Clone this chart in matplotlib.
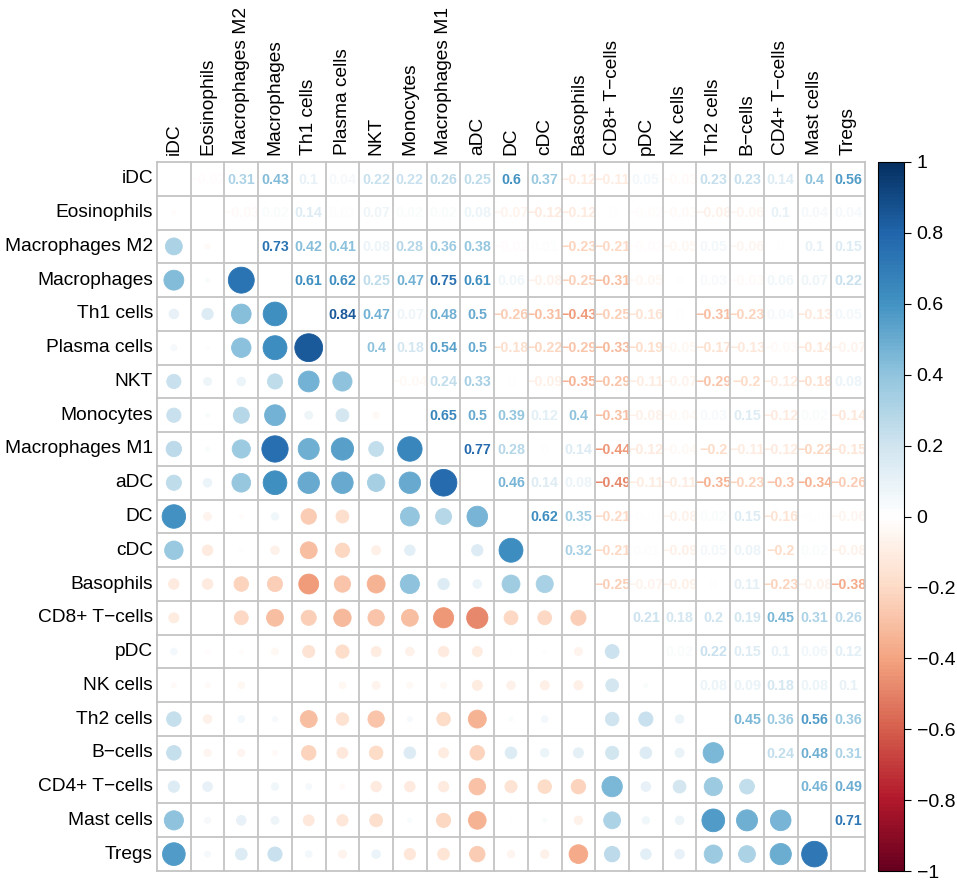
import matplotlib
matplotlib.use("Agg")
import matplotlib.pyplot as plt
import numpy as np
from matplotlib.colors import LinearSegmentedColormap, Normalize
from matplotlib.patches import Circle
from matplotlib.cm import ScalarMappable

plt.rcParams['font.family'] = ['Liberation Sans', 'DejaVu Sans']

labels = ["iDC", "Eosinophils", "Macrophages M2", "Macrophages", "Th1 cells",
          "Plasma cells", "NKT", "Monocytes", "Macrophages M1", "aDC", "DC",
          "cDC", "Basophils", "CD8+ T\u2212cells", "pDC", "NK cells", "Th2 cells",
          "B\u2212cells", "CD4+ T\u2212cells", "Mast cells", "Tregs"]

# upper triangle, row i holds correlations with columns i+1 .. 20
upper = [
    [-0.02, 0.31, 0.43, 0.1, 0.04, 0.22, 0.22, 0.26, 0.25, 0.6, 0.37, -0.12, -0.11, 0.05, -0.03, 0.23, 0.23, 0.14, 0.4, 0.56],
    [-0.03, 0.02, 0.14, 0.01, 0.07, 0.02, 0.02, 0.08, -0.07, -0.12, -0.12, 0.0, -0.02, -0.03, -0.08, -0.06, 0.1, 0.04, 0.04],
    [0.73, 0.42, 0.41, 0.08, 0.28, 0.36, 0.38, -0.02, 0.01, -0.23, -0.21, -0.02, -0.05, 0.05, -0.06, 0.0, 0.1, 0.15],
    [0.61, 0.62, 0.25, 0.47, 0.75, 0.61, 0.06, -0.08, -0.25, -0.31, -0.05, 0.0, 0.03, -0.03, 0.06, 0.07, 0.22],
    [0.84, 0.47, 0.07, 0.48, 0.5, -0.26, -0.31, -0.43, -0.25, -0.16, 0.0, -0.31, -0.23, 0.04, -0.13, 0.05],
    [0.4, 0.18, 0.54, 0.5, -0.18, -0.22, -0.29, -0.33, -0.19, -0.05, -0.17, -0.13, -0.03, -0.14, -0.07],
    [-0.04, 0.24, 0.33, 0.0, -0.09, -0.35, -0.29, -0.11, -0.07, -0.29, -0.2, -0.12, -0.18, 0.08],
    [0.65, 0.5, 0.39, 0.12, 0.4, -0.31, -0.08, -0.04, 0.03, 0.15, -0.12, 0.02, -0.14],
    [0.77, 0.28, 0.0, 0.14, -0.44, -0.12, -0.04, -0.2, -0.11, -0.12, -0.22, -0.15],
    [0.46, 0.14, 0.08, -0.49, -0.11, -0.11, -0.35, -0.23, -0.3, -0.34, -0.26],
    [0.62, 0.35, -0.21, -0.01, -0.08, 0.02, 0.15, -0.16, -0.01, -0.06],
    [0.32, -0.21, 0.01, -0.09, 0.05, 0.08, -0.2, 0.02, -0.08],
    [-0.25, -0.07, -0.09, 0.0, 0.11, -0.23, -0.08, -0.38],
    [0.21, 0.18, 0.2, 0.19, 0.45, 0.31, 0.26],
    [0.02, 0.22, 0.15, 0.1, 0.06, 0.12],
    [0.08, 0.09, 0.18, 0.08, 0.1],
    [0.45, 0.36, 0.56, 0.36],
    [0.24, 0.48, 0.31],
    [0.46, 0.49],
    [0.71],
]

cb_ticks = [1, 0.8, 0.6, 0.4, 0.2, 0, -0.2, -0.4, -0.6, -0.8, -1]

n = len(labels)
M = np.zeros((n, n))
for i, row in enumerate(upper):
    for k, v in enumerate(row):
        j = i + 1 + k
        M[i, j] = v
        M[j, i] = v

cmap = LinearSegmentedColormap.from_list(
    "corrRdBu",
    ["#67001F", "#B2182B", "#D6604D", "#F4A582", "#FDDBC7", "#FFFFFF",
     "#D1E5F0", "#92C5DE", "#4393C3", "#2166AC", "#053061"], N=200)
norm = Normalize(-1, 1)

W, H = 957, 880
fig = plt.figure(figsize=(W / 100, H / 100), dpi=100)
gl, gr, gt, gb = 157, 865, 162, 871
ax = fig.add_axes([gl / W, 1 - gb / H, (gr - gl) / W, (gb - gt) / H])
ax.set_xlim(0, n)
ax.set_ylim(n, 0)
ax.axis("off")

def fmt(v):
    s = f"{round(v, 2):g}"
    if s == "-0":
        s = "0"
    return s.replace("-", "\u2212")

for i in range(n):
    for j in range(n):
        if i == j:
            continue
        v = M[i, j]
        c = cmap(norm(v))
        if j > i:
            ax.text(j + 0.5, i + 0.52, fmt(v), ha="center", va="center",
                    fontsize=10.3, fontweight="bold", color=c)
        else:
            r = 0.45 * np.sqrt(abs(v))
            if r > 0:
                ax.add_patch(Circle((j + 0.5, i + 0.5), r, facecolor=c,
                                    edgecolor=c, lw=0.6, zorder=2))

for k in range(n + 1):
    ax.plot([k, k], [0, n], color="#C4C4C4", lw=1.3, zorder=3, clip_on=False)
    ax.plot([0, n], [k, k], color="#C4C4C4", lw=1.3, zorder=3, clip_on=False)

for i, lab in enumerate(labels):
    ax.text(-0.12, i + 0.5, lab, ha="right", va="center", fontsize=13.8, color="black")
    ax.text(i + 0.5, -0.2, lab, ha="center", va="bottom", rotation=90,
            fontsize=13.8, color="black")

cax = fig.add_axes([878 / W, 1 - gb / H, (904 - 878) / W, (gb - gt) / H])
cb = fig.colorbar(ScalarMappable(norm=norm, cmap=cmap), cax=cax)
cb.set_ticks(cb_ticks)
cb.set_ticklabels([fmt(t) for t in cb_ticks])
cb.ax.tick_params(labelsize=14, length=5, width=0.8, pad=4)
cb.outline.set_linewidth(0.8)

fig.savefig("out.png", dpi=100)
